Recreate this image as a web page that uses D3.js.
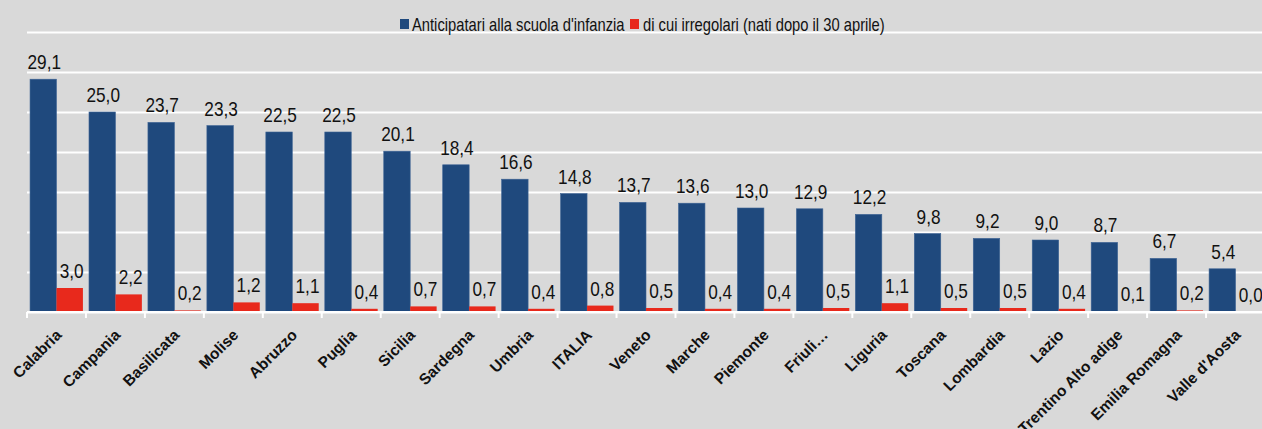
<!DOCTYPE html>
<html><head><meta charset="utf-8">
<script src="https://cdn.jsdelivr.net/npm/d3@7"></script>
<style>
html,body{margin:0;padding:0;background:#d9d9d9;}
svg{display:block;}
</style></head>
<body>
<svg id="chart" width="1262" height="429"></svg>
<script>
const categories = ["Calabria","Campania","Basilicata","Molise","Abruzzo","Puglia","Sicilia","Sardegna","Umbria","ITALIA","Veneto","Marche","Piemonte","Friuli\u2026","Liguria","Toscana","Lombardia","Lazio","Trentino Alto adige","Emilia Romagna","Valle d'Aosta"];
const anticipatari = [29.1,25.0,23.7,23.3,22.5,22.5,20.1,18.4,16.6,14.8,13.7,13.6,13.0,12.9,12.2,9.8,9.2,9.0,8.7,6.7,5.4];
const irregolari = [3.0,2.2,0.2,1.2,1.1,0.4,0.7,0.7,0.4,0.8,0.5,0.4,0.4,0.5,1.1,0.5,0.5,0.4,0.1,0.2,0.0];
const seriesNames = ["Anticipatari alla scuola d'infanzia","di cui irregolari (nati dopo il 30 aprile)"];
const yTicks = [0,5,10,15,20,25,30,35];

const W = 1262, H = 429;
const mLeft = 27, mRight = 1265, mTop = 32, mBottom = 312;
const blue = "#1f497d", red = "#e8291c";
const narrowFamily = "'Liberation Sans', Arial, sans-serif";
const sx = 0.82;

const svg = d3.select("#chart");
svg.append("rect").attr("width", W).attr("height", H).attr("fill", "#d9d9d9");

const x0 = d3.scaleBand().domain(categories).range([mLeft, mRight]).paddingInner(0).paddingOuter(0);
const y = d3.scaleLinear().domain([0, 35]).range([mBottom, mTop]);
const x1 = d3.scaleBand().domain(["a","b"]).range([0, x0.bandwidth()]).paddingInner(0).paddingOuter(0.115);

// gridlines
const yAxis = d3.axisLeft(y).tickValues(yTicks).tickSize(-(W - mLeft)).tickFormat("");
const gy = svg.append("g").attr("transform", `translate(${mLeft},0)`).call(yAxis);
gy.select(".domain").remove();
gy.selectAll(".tick line").attr("stroke", "#ffffff").attr("stroke-width", 2);

// bars
const g = svg.append("g");
const groups = g.selectAll("g.cat").data(categories).join("g")
  .attr("class", "cat").attr("transform", d => `translate(${x0(d)},0)`);

groups.append("rect")
  .attr("x", x1("a")).attr("width", x1.bandwidth())
  .attr("y", (d,i) => y(anticipatari[i]))
  .attr("height", (d,i) => mBottom - y(anticipatari[i]))
  .attr("fill", blue).attr("stroke", "#3d6394").attr("stroke-width", 0.6);

groups.append("rect")
  .attr("x", x1("b")).attr("width", x1.bandwidth())
  .attr("y", (d,i) => y(irregolari[i]))
  .attr("height", (d,i) => mBottom - y(irregolari[i]))
  .attr("fill", red);

const fmt = v => v.toFixed(1).replace(".", ",");

function valueLabel(sel, xc, yc, txt) {
  sel.append("text")
    .attr("transform", `translate(${xc},${yc}) scale(${sx},1)`)
    .attr("text-anchor", "middle")
    .attr("font-family", narrowFamily)
    .attr("font-size", 21)
    .attr("fill", "#111")
    .text(txt);
}
groups.each(function(d, i) {
  const s = d3.select(this);
  valueLabel(s, x1("a") + x1.bandwidth()/2 + 1, y(anticipatari[i]) - 10, fmt(anticipatari[i]));
  valueLabel(s, x1("b") + x1.bandwidth()/2 + 2, y(irregolari[i]) - 10, fmt(irregolari[i]));
});

// x axis
const xAxis = d3.axisBottom(x0).tickSize(0).tickFormat("");
const gx = svg.append("g").attr("transform", `translate(0,${mBottom})`).call(xAxis);
gx.select(".domain").attr("stroke", "#ffffff").attr("stroke-width", 2)
  .attr("d", `M${mLeft},0H${W}`);
gx.selectAll(".tick").remove();
const bounds = categories.map(c => x0(c));
gx.selectAll("line.bt").data(bounds).join("line")
  .attr("class","bt")
  .attr("x1", d => d).attr("x2", d => d).attr("y1", 0).attr("y2", 6)
  .attr("stroke", "#ffffff").attr("stroke-width", 2);

gx.selectAll("text.cl").data(categories).join("text")
  .attr("class","cl")
  .attr("transform", d => `translate(${x0(d) + x0.bandwidth()/2 + 6},${24}) rotate(-45)`)
  .attr("text-anchor", "end")
  .attr("font-family", "'Liberation Sans', Arial, sans-serif")
  .attr("font-weight", "bold")
  .attr("font-size", 15.5)
  .attr("fill", "#111")
  .text(d => d);

// legend
const leg = svg.append("g").attr("transform", "translate(400,19)");
const legItems = [{name: seriesNames[0], color: blue, x: 0, tx: 12}, {name: seriesNames[1], color: red, x: 230, tx: 243}];
legItems.forEach(it => {
  leg.append("rect").attr("x", it.x).attr("y", 0).attr("width", 9).attr("height", 10).attr("fill", it.color);
  leg.append("text")
    .attr("transform", `translate(${it.tx},${11.5}) scale(${sx},1)`)
    .attr("font-family", narrowFamily)
    .attr("font-size", 18)
    .attr("fill", "#111")
    .text(it.name);
});
</script>
</body></html>
